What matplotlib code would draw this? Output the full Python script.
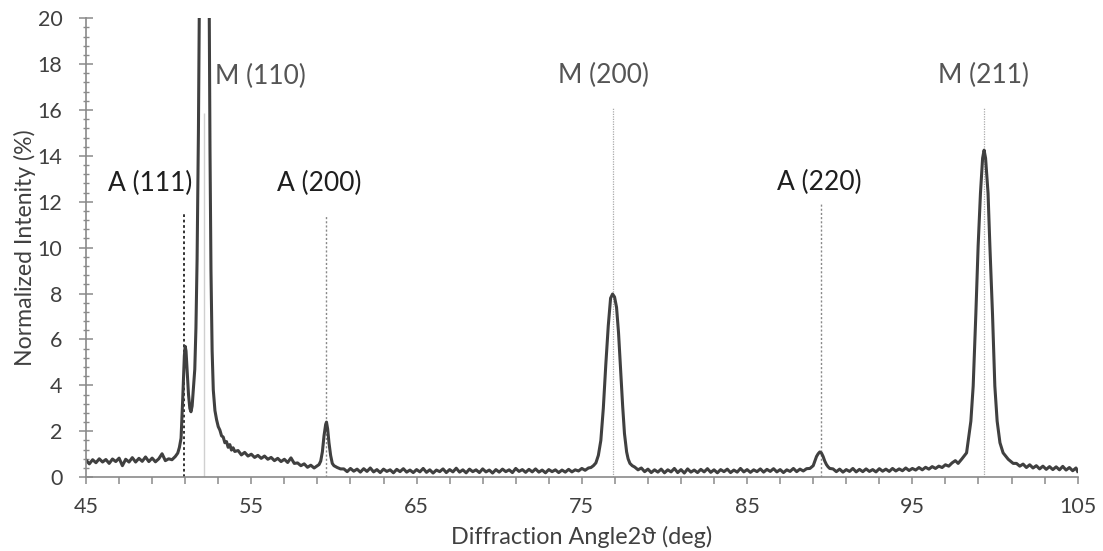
import matplotlib
matplotlib.use("Agg")
import matplotlib.pyplot as plt
from matplotlib.ticker import MultipleLocator

plt.rcParams['font.family'] = ['Lato', 'DejaVu Sans']

# diffraction trace (2theta in deg, normalized intensity in %)
angle = [
    45.0, 45.2, 45.4, 45.6, 45.8, 46.0, 46.2, 46.4, 46.6, 46.8, 47.0, 47.2, 47.4, 47.6, 47.8,
    48.0, 48.2, 48.4, 48.6, 48.8, 49.0, 49.2, 49.4, 49.6, 49.8, 50.0, 50.2, 50.4, 50.55,
    50.65, 50.75, 50.85, 50.95, 51.0, 51.05, 51.12, 51.2, 51.28, 51.35, 51.42, 51.5, 51.58,
    51.65, 51.72, 51.8, 51.86, 52.0, 52.15, 52.3, 52.45, 52.5, 52.56, 52.63, 52.7, 52.8,
    52.9, 53.0, 53.1, 53.2, 53.3, 53.4, 53.5, 53.6, 53.7, 53.8, 53.9, 54.0, 54.2, 54.4,
    54.6, 54.8, 55.0, 55.2, 55.4, 55.6, 55.8, 56.0, 56.2, 56.4, 56.6, 56.8, 57.0, 57.2,
    57.4, 57.6, 57.8, 58.0, 58.2, 58.4, 58.6, 58.8, 59.0, 59.1, 59.2, 59.3, 59.4, 59.5,
    59.55, 59.62, 59.7, 59.8, 59.9, 60.0, 60.2, 60.4,
    60.6, 60.8, 61.0, 61.2, 61.4, 61.6, 61.8, 62.0, 62.2, 62.4, 62.6, 62.8, 63.0, 63.2,
    63.4, 63.6, 63.8, 64.0, 64.2, 64.4, 64.6, 64.8, 65.0, 65.2, 65.4, 65.6, 65.8, 66.0,
    66.2, 66.4, 66.6, 66.8, 67.0, 67.2, 67.4, 67.6, 67.8, 68.0, 68.2, 68.4, 68.6, 68.8,
    69.0, 69.2, 69.4, 69.6, 69.8, 70.0, 70.2, 70.4, 70.6, 70.8, 71.0, 71.2, 71.4, 71.6,
    71.8, 72.0, 72.2, 72.4, 72.6, 72.8, 73.0, 73.2, 73.4, 73.6, 73.8, 74.0, 74.2, 74.4,
    74.6, 74.8, 75.0, 75.2, 75.4, 75.55,
    75.7, 75.85, 76.0, 76.15, 76.3, 76.45, 76.6, 76.74, 76.86, 76.98, 77.1, 77.22, 77.35,
    77.47, 77.58, 77.71, 77.8, 77.91, 78.05,
    78.2, 78.4, 78.6, 78.8, 79.0, 79.2, 79.4, 79.6, 79.8, 80.0, 80.2, 80.4, 80.6, 80.8,
    81.0, 81.2, 81.4, 81.6, 81.8, 82.0, 82.2, 82.4, 82.6, 82.8, 83.0, 83.2, 83.4, 83.6,
    83.8, 84.0, 84.2, 84.4, 84.6, 84.8, 85.0, 85.2, 85.4, 85.6, 85.8, 86.0, 86.2, 86.4,
    86.6, 86.8, 87.0, 87.2, 87.4, 87.6, 87.8, 88.0, 88.2, 88.4, 88.6, 88.8,
    89.0, 89.1, 89.2, 89.3, 89.4, 89.5, 89.6, 89.7, 89.8, 89.9, 90.0,
    90.2, 90.4, 90.6, 90.8, 91.0, 91.2, 91.4, 91.6, 91.8, 92.0, 92.2, 92.4, 92.6, 92.8,
    93.0, 93.2, 93.4, 93.6, 93.8, 94.0, 94.2, 94.4, 94.6, 94.8, 95.0, 95.2, 95.4, 95.6,
    95.8, 96.0, 96.2, 96.4, 96.6, 96.8, 97.0, 97.2, 97.4, 97.6,
    97.77, 98.0, 98.28, 98.54, 98.68, 98.84, 98.98, 99.12, 99.25, 99.34, 99.43, 99.58,
    99.69, 99.85, 99.99, 100.13, 100.3, 100.49, 100.8, 101.1,
    101.3, 101.5, 101.7, 101.9, 102.1, 102.3, 102.5, 102.7, 102.9, 103.1, 103.3, 103.5,
    103.7, 103.9, 104.1, 104.3, 104.5, 104.7, 104.9, 105.0,
]
intensity = [
    0.74, 0.58, 0.76, 0.63, 0.80, 0.66, 0.77, 0.60, 0.79, 0.68, 0.83, 0.50, 0.78, 0.66, 0.85,
    0.66, 0.82, 0.69, 0.88, 0.68, 0.83, 0.67, 0.80, 1.02, 0.72, 0.80, 0.76, 0.90, 1.05,
    1.3, 1.7, 3.4, 5.3, 5.7, 5.5, 4.6, 3.6, 3.0, 2.85, 3.1, 3.9, 4.7,
    6.5, 9.5, 15.0, 21.0, 60.0, 100.0, 60.0, 21.0, 14.3, 9.0, 5.5, 3.8, 2.9,
    2.5, 2.2, 2.05, 1.8, 1.75, 1.5, 1.55, 1.3, 1.42, 1.18, 1.28, 1.12, 1.16, 0.97,
    1.08, 0.92, 1.0, 0.86, 0.95, 0.82, 0.92, 0.78, 0.86, 0.72, 0.82, 0.68, 0.78, 0.64,
    0.84, 0.60, 0.62, 0.50, 0.58, 0.43, 0.52, 0.40, 0.50, 0.55, 0.70, 1.1, 1.8, 2.3,
    2.4, 2.1, 1.5, 0.95, 0.60, 0.50, 0.42, 0.36,
    0.36, 0.24, 0.38, 0.26, 0.35, 0.22, 0.37, 0.25, 0.40, 0.23, 0.33, 0.20, 0.35, 0.25,
    0.32, 0.19, 0.34, 0.24, 0.37, 0.22, 0.31, 0.20, 0.33, 0.23, 0.38, 0.21, 0.32, 0.18,
    0.31, 0.24, 0.36, 0.20, 0.33, 0.23, 0.39, 0.22, 0.32, 0.19, 0.35, 0.24, 0.32, 0.20,
    0.36, 0.23, 0.31, 0.18, 0.33, 0.22, 0.35, 0.24, 0.32, 0.20, 0.38, 0.25, 0.33, 0.21,
    0.34, 0.23, 0.36, 0.22, 0.31, 0.19, 0.33, 0.24, 0.32, 0.20, 0.31, 0.22, 0.34, 0.23,
    0.32, 0.27, 0.38, 0.30, 0.40, 0.42,
    0.50, 0.62, 0.95, 1.6, 3.0, 4.9, 6.6, 7.8, 7.98, 7.85, 7.4, 6.3, 4.6,
    3.1, 1.9, 1.1, 0.8, 0.6, 0.5,
    0.44, 0.32, 0.40, 0.24, 0.35, 0.20, 0.32, 0.22, 0.35, 0.19, 0.32, 0.23, 0.38, 0.20,
    0.33, 0.18, 0.36, 0.22, 0.31, 0.20, 0.34, 0.23, 0.37, 0.21, 0.32, 0.19, 0.33, 0.24,
    0.35, 0.20, 0.31, 0.22, 0.38, 0.23, 0.33, 0.21, 0.32, 0.24, 0.36, 0.22, 0.34, 0.25,
    0.37, 0.23, 0.33, 0.20, 0.32, 0.25, 0.38, 0.24, 0.35, 0.27, 0.37, 0.38,
    0.50, 0.70, 0.90, 1.02, 1.10, 1.05, 0.90, 0.70, 0.55, 0.45, 0.38,
    0.36, 0.24, 0.35, 0.22, 0.33, 0.25, 0.38, 0.23, 0.34, 0.24, 0.36, 0.25, 0.33, 0.23,
    0.37, 0.26, 0.35, 0.25, 0.38, 0.27, 0.36, 0.28, 0.40, 0.29, 0.38, 0.31, 0.42, 0.32,
    0.43, 0.35, 0.46, 0.38, 0.48, 0.42, 0.54, 0.48, 0.62, 0.72,
    0.60, 0.80, 1.06, 2.44, 3.97, 7.09, 10.08, 12.37, 13.9, 14.25, 13.9, 12.37,
    10.08, 7.09, 3.97, 2.44, 1.5, 1.06, 0.78, 0.60,
    0.60, 0.48, 0.57, 0.42, 0.54, 0.40, 0.50, 0.36, 0.48, 0.34, 0.46, 0.33,
    0.45, 0.32, 0.47, 0.31, 0.42, 0.28, 0.40, 0.25,
]

# reference peak positions and their marker line heights
austenite_pos = [50.93, 59.5, 89.45]
austenite_top = [11.45, 11.4, 11.9]
austenite_lbl = ["A (111)", "A (200)", "A (220)"]
austenite_txt = [(48.9, 12.8), (59.13, 12.8), (89.37, 12.85)]
martensite_pos = [52.14, 76.87, 99.33]
martensite_top = [15.85, 16.1, 16.1]
martensite_lbl = ["M (110)", "M (200)", "M (211)"]
martensite_txt = [(55.53, 17.47), (76.34, 17.5), (99.29, 17.5)]

fig = plt.figure(figsize=(11.03, 5.51), dpi=100)
ax = fig.add_axes([0.078, 0.134, 0.899, 0.833])

# marker lines under the trace
ax.vlines(austenite_pos[0], 0, austenite_top[0], colors="#222222", linestyles=(0, (1.5, 1.5)), lw=1.3)
ax.vlines(austenite_pos[1:], 0, austenite_top[1:], colors="#888888", linestyles=(0, (1.5, 1.5)), lw=1.0)
ax.vlines(martensite_pos[0], 0, martensite_top[0], colors="#d0d0d0", lw=1.0)
ax.vlines(martensite_pos[1:], 0, martensite_top[1:], colors="#aaaaaa", linestyles=(0, (1, 1)), lw=0.9)

ax.plot(angle, intensity, color="#404040", lw=2.2, solid_joinstyle="round")

for lbl, (x, y) in zip(austenite_lbl, austenite_txt):
    ax.text(x, y, lbl, ha="center", va="center", fontsize=19, color="#1e1e1e")
for lbl, (x, y) in zip(martensite_lbl, martensite_txt):
    ax.text(x, y, lbl, ha="center", va="center", fontsize=19, color="#555555")

ax.set_xlim(45, 105)
ax.set_ylim(0, 20)
ax.set_xticks([45, 55, 65, 75, 85, 95, 105])
ax.xaxis.set_minor_locator(MultipleLocator(2, offset=1))
ax.yaxis.set_major_locator(MultipleLocator(2))
ax.yaxis.set_minor_locator(MultipleLocator(0.4))

for s in ["top", "right"]:
    ax.spines[s].set_visible(False)
for s in ["left", "bottom"]:
    ax.spines[s].set_color("#8a8a8a")
    ax.spines[s].set_linewidth(1.2)

ax.tick_params(axis="x", which="both", direction="out", length=5, width=1.1,
               color="#8a8a8a", labelsize=15.5, labelcolor="#404040", pad=9)
ax.tick_params(axis="y", which="major", direction="inout", length=10, width=1.1,
               color="#8a8a8a", labelsize=15.5, labelcolor="#404040", pad=12)
ax.tick_params(axis="y", which="minor", direction="inout", length=5, width=1.0, color="#8a8a8a")

ax.set_xlabel("Diffraction Angle2ϑ (deg)", fontsize=16.8, color="#404040", labelpad=7)
ax.set_ylabel("Normalized Intenity (%)", fontsize=16.6, color="#404040", labelpad=1)

fig.savefig("out.png", dpi=100)
